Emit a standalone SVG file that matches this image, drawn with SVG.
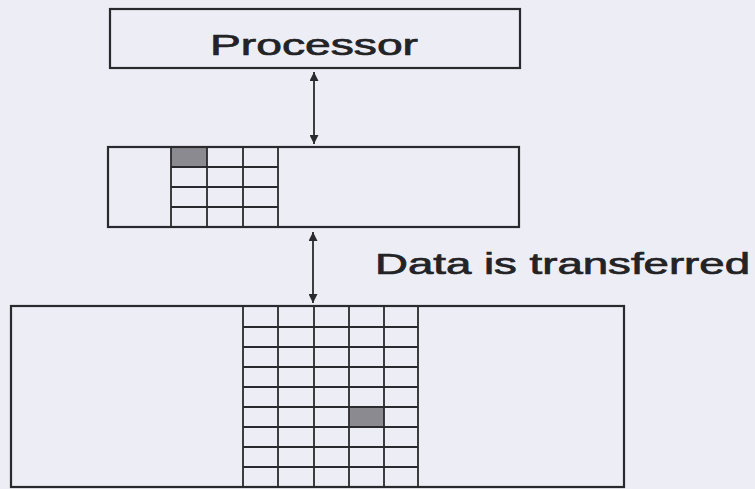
<svg xmlns="http://www.w3.org/2000/svg" width="755" height="489" viewBox="0 0 755 489">
  <style>
    .box { fill: none; stroke: #2a2a2e; stroke-width: 2.2; }
    .grid { fill: none; stroke: #2a2a2e; stroke-width: 1.8; }
    .hl { fill: #8a8a90; stroke: none; }
    .conn { fill: none; stroke: #2a2a2e; stroke-width: 1.8; }
    .lbl { font-family: "Liberation Sans", Arial, sans-serif; fill: #232326; stroke: #232326; stroke-width: 0.7; }
  </style>
  <defs>
    <marker id="ah" viewBox="0 0 10 10" refX="10" refY="5" markerWidth="9" markerHeight="9" markerUnits="userSpaceOnUse" orient="auto">
      <path d="M0,0 L10,5 L0,10 z" fill="#2a2a2e"/>
    </marker>
  </defs>
  <rect width="755" height="489" fill="#ededf5"/>

  <g id="processor">
    <rect class="box" x="110" y="9" width="410" height="59"/>
    <text class="lbl" x="210" y="55" font-size="30" textLength="208" lengthAdjust="spacingAndGlyphs">Processor</text>
  </g>

  <g id="cache">
    <rect class="hl" x="171" y="147" width="36" height="20"/>
    <rect class="box" x="108" y="147" width="411" height="80"/>
    <path class="grid" d="M171,147 V227 M207,147 V227 M243,147 V227 M278,147 V227 M171,167 H278 M171,187 H278 M171,207 H278"/>
  </g>

  <g id="memory">
    <rect class="hl" x="349" y="407" width="35" height="20"/>
    <rect class="box" x="11" y="306" width="613" height="181"/>
    <path class="grid" d="M243,306 V487 M278,306 V487 M314,306 V487 M349,306 V487 M384,306 V487 M418,306 V487 M243,327 H418 M243,347 H418 M243,367 H418 M243,387 H418 M243,407 H418 M243,427 H418 M243,447 H418 M243,467 H418"/>
  </g>

  <g id="label">
    <text class="lbl" x="375" y="274" font-size="29" textLength="375" lengthAdjust="spacingAndGlyphs">Data is transferred</text>
  </g>

  <g id="connectors">
    <line class="conn" x1="314" y1="108" x2="314" y2="72" marker-end="url(#ah)"/>
    <line class="conn" x1="314" y1="108" x2="314" y2="144" marker-end="url(#ah)"/>
    <line class="conn" x1="313" y1="268" x2="313" y2="232" marker-end="url(#ah)"/>
    <line class="conn" x1="313" y1="268" x2="313" y2="303" marker-end="url(#ah)"/>
  </g>
</svg>
